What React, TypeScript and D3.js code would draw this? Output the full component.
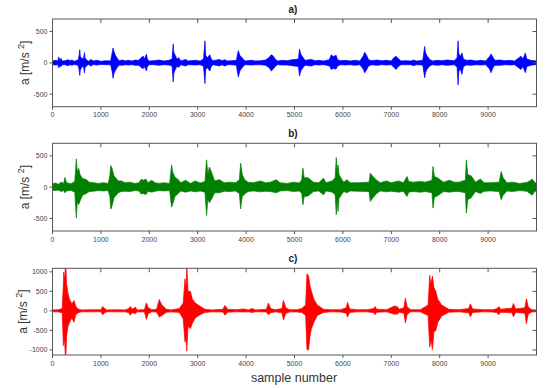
import React from "react";
import { scaleLinear, area, curveLinear } from "d3";

type Pt = [number, number, number]; // sample, upper envelope, lower envelope

const xTicks = [0, 1000, 2000, 3000, 4000, 5000, 6000, 7000, 8000, 9000];
const yTicksAB = [-500, 0, 500];
const yTicksC = [-1000, -500, 0, 500, 1000];
const panelTitles = ["a)", "b)", "c)"];

// envelope of the acceleration signal
const envA: Pt[] = [
  [0, 30, -30], [60, 40, -35], [110, 30, -30], [130, 95, -80], [150, 50, -45],
  [175, 70, -60], [200, 30, -30], [260, 35, -30], [320, 50, -45], [360, 35, -30],
  [400, 45, -40], [450, 25, -25], [530, 45, -40], [550, 120, -110], [563, 210, -200],
  [575, 100, -110], [610, 70, -65], [640, 60, -55], [660, 165, -160], [672, 80, -80],
  [700, 50, -50], [740, 25, -25], [800, 55, -50], [840, 30, -28], [920, 40, -35],
  [1000, 25, -25], [1100, 35, -30], [1200, 30, -30], [1235, 170, -150], [1252, 237, -247],
  [1270, 180, -170], [1300, 120, -120], [1340, 70, -70], [1380, 35, -35], [1450, 45, -40],
  [1500, 30, -30], [1560, 40, -35], [1650, 30, -30], [1700, 45, -40], [1780, 40, -40],
  [1830, 80, -70], [1870, 110, -95], [1900, 60, -60], [1940, 140, -130], [1960, 60, -60],
  [2000, 30, -30], [2100, 35, -30], [2200, 45, -40], [2300, 30, -30], [2400, 40, -35],
  [2470, 60, -50], [2494, 300, -305], [2505, 170, -170], [2530, 130, -120], [2570, 60, -55],
  [2610, 80, -70], [2650, 30, -30], [2750, 55, -50], [2800, 30, -30], [2950, 40, -35],
  [3050, 30, -30], [3120, 60, -55], [3150, 352, -331], [3165, 120, -110], [3200, 80, -75],
  [3250, 130, -130], [3280, 60, -60], [3320, 35, -30], [3450, 55, -50], [3500, 35, -30],
  [3560, 50, -50], [3620, 30, -30], [3700, 35, -30], [3800, 40, -40], [3825, 150, -170],
  [3840, 195, -226], [3870, 120, -130], [3940, 60, -55], [3980, 30, -30], [4100, 40, -35],
  [4200, 30, -30], [4300, 35, -30], [4400, 45, -40], [4480, 90, -80], [4520, 130, -130],
  [4560, 110, -100], [4600, 60, -60], [4650, 30, -30], [4750, 40, -35], [4850, 35, -35],
  [4950, 50, -45], [5080, 60, -60], [5104, 220, -210], [5130, 140, -130], [5180, 80, -70],
  [5220, 40, -40], [5350, 55, -50], [5420, 35, -30], [5500, 40, -35], [5600, 30, -30],
  [5720, 50, -45], [5760, 130, -105], [5800, 100, -90], [5860, 120, -100], [5890, 50, -50],
  [5950, 35, -30], [6050, 40, -35], [6150, 30, -30], [6250, 40, -40], [6350, 30, -30],
  [6420, 110, -100], [6450, 170, -160], [6490, 120, -110], [6530, 50, -50], [6600, 35, -30],
  [6700, 45, -40], [6800, 35, -30], [6900, 40, -35], [7000, 30, -30], [7050, 80, -70],
  [7100, 105, -105], [7140, 70, -60], [7200, 30, -30], [7300, 35, -30], [7400, 30, -30],
  [7460, 45, -45], [7520, 30, -30], [7650, 40, -35], [7690, 263, -237], [7705, 170, -160],
  [7740, 110, -100], [7800, 50, -45], [7850, 30, -30], [7950, 40, -40], [8050, 35, -30],
  [8150, 45, -40], [8300, 35, -30], [8360, 80, -70], [8380, 352, -352], [8395, 150, -140],
  [8430, 100, -100], [8460, 158, -184], [8490, 60, -60], [8550, 40, -35], [8650, 45, -40],
  [8750, 30, -30], [8850, 40, -35], [8950, 30, -30], [9030, 100, -100], [9060, 142, -158],
  [9100, 90, -80], [9140, 40, -40], [9250, 45, -40], [9350, 35, -30], [9450, 40, -35],
  [9550, 30, -30], [9650, 90, -90], [9680, 105, -105], [9720, 60, -60], [9770, 158, -158],
  [9800, 60, -60], [9880, 40, -40], [9950, 35, -30], [10000, 30, -30],
];

const envB: Pt[] = [
  [0, 50, -50], [60, 65, -55], [120, 45, -45], [180, 80, -70], [230, 60, -55],
  [258, 155, -90], [290, 70, -60], [380, 55, -50], [460, 90, -80], [493, 452, -495],
  [510, 250, -240], [540, 300, -280], [570, 200, -220], [620, 140, -130], [700, 120, -100],
  [760, 80, -70], [850, 70, -65], [950, 60, -55], [1050, 70, -60], [1150, 60, -55],
  [1185, 180, -150], [1204, 345, -351], [1230, 300, -300], [1270, 180, -170], [1360, 100, -90],
  [1420, 100, -70], [1500, 70, -65], [1600, 80, -70], [1700, 60, -55], [1790, 70, -60],
  [1830, 125, -110], [1880, 110, -100], [1930, 130, -120], [1970, 70, -65], [2050, 110, -80],
  [2120, 70, -65], [2200, 60, -55], [2300, 70, -60], [2420, 60, -55], [2460, 356, -320],
  [2480, 250, -280], [2530, 160, -150], [2600, 120, -100], [2650, 70, -60], [2750, 110, -80],
  [2850, 60, -60], [2950, 100, -75], [3050, 65, -60], [3150, 90, -80], [3184, 436, -452],
  [3210, 200, -180], [3240, 320, -250], [3280, 250, -200], [3350, 100, -90], [3450, 120, -90],
  [3550, 70, -65], [3650, 80, -70], [3780, 70, -60], [3860, 120, -100], [3888, 383, -346],
  [3920, 200, -150], [3970, 120, -110], [4040, 80, -70], [4150, 70, -60], [4300, 100, -75],
  [4400, 70, -65], [4500, 80, -70], [4627, 120, -90], [4700, 70, -60], [4850, 60, -55],
  [4980, 80, -70], [5100, 65, -60], [5150, 120, -100], [5174, 303, -282], [5200, 150, -150],
  [5280, 150, -140], [5392, 80, -70], [5500, 70, -60], [5600, 144, -122], [5650, 70, -60],
  [5780, 100, -80], [5840, 150, -120], [5863, 473, -441], [5880, 250, -200], [5900, 356, -388],
  [5920, 200, -180], [5980, 120, -110], [6020, 80, -70], [6080, 120, -90], [6150, 70, -60],
  [6300, 70, -65], [6540, 80, -70], [6566, 223, -229], [6620, 170, -170], [6700, 110, -100],
  [6770, 70, -60], [6900, 100, -75], [7000, 70, -65], [7150, 100, -80], [7250, 70, -65],
  [7325, 170, -150], [7360, 90, -80], [7450, 80, -70], [7600, 90, -80], [7700, 80, -70],
  [7840, 110, -90], [7862, 330, -335], [7890, 170, -160], [7950, 150, -140], [8080, 80, -70],
  [8200, 110, -80], [8300, 80, -70], [8400, 80, -70], [8530, 110, -90], [8551, 436, -415],
  [8580, 200, -200], [8650, 180, -170], [8740, 80, -70], [8840, 130, -100], [8920, 70, -65],
  [9050, 70, -60], [9230, 80, -70], [9269, 250, -202], [9310, 150, -130], [9390, 70, -60],
  [9500, 80, -70], [9650, 60, -55], [9800, 75, -65], [9880, 110, -110], [9910, 130, -130],
  [9960, 80, -70], [10000, 60, -60],
];

const envC: Pt[] = [
  [0, 25, -25], [100, 30, -25], [150, 40, -35], [200, 60, -50], [225, 700, -890],
  [231, 990, -700], [250, 800, -800], [273, 1300, -1300], [290, 700, -650], [320, 450, -400],
  [350, 300, -300], [400, 180, -180], [445, 265, -290], [480, 120, -100], [528, 50, -50],
  [600, 25, -25], [800, 30, -25], [1000, 30, -25], [1038, 110, -100], [1080, 60, -50],
  [1120, 25, -25], [1300, 30, -25], [1500, 25, -25], [1580, 60, -50], [1603, 110, -110],
  [1650, 50, -50], [1715, 90, -70], [1750, 25, -25], [1900, 30, -30], [1940, 205, -220],
  [1980, 80, -70], [2050, 30, -25], [2150, 40, -30], [2205, 290, -160], [2260, 150, -120],
  [2355, 40, -35], [2450, 25, -25], [2620, 60, -40], [2700, 200, -200], [2737, 820, -800],
  [2760, 600, -700], [2775, 1200, -1030], [2800, 500, -400], [2850, 500, -450], [2890, 300, -320],
  [2950, 200, -180], [3050, 120, -100], [3150, 40, -40], [3300, 25, -25], [3520, 40, -30],
  [3565, 140, -110], [3620, 40, -35], [3800, 30, -25], [3950, 50, -30], [4050, 25, -25],
  [4115, 60, -40], [4200, 25, -25], [4420, 40, -30], [4460, 200, -100], [4510, 60, -50],
  [4600, 30, -25], [4740, 60, -50], [4771, 270, -230], [4820, 80, -70], [4900, 30, -25],
  [5050, 30, -30], [5150, 60, -40], [5230, 150, -120], [5257, 950, -990], [5290, 900, -1000],
  [5320, 650, -650], [5350, 500, -450], [5400, 300, -300], [5470, 150, -120], [5600, 40, -40],
  [5750, 30, -25], [5950, 30, -30], [6070, 80, -60], [6097, 220, -160], [6140, 50, -40],
  [6300, 30, -25], [6500, 30, -25], [6640, 60, -50], [6663, 110, -100], [6700, 40, -35],
  [6900, 30, -25], [7080, 130, -90], [7100, 80, -60], [7120, 120, -100], [7160, 40, -35],
  [7260, 80, -60], [7290, 325, -310], [7330, 100, -80], [7400, 30, -25], [7600, 30, -25],
  [7760, 150, -120], [7793, 910, -930], [7820, 700, -750], [7850, 890, -990], [7880, 600, -550],
  [7920, 500, -500], [7960, 300, -300], [8040, 150, -130], [8190, 40, -35], [8400, 30, -25],
  [8600, 60, -50], [8634, 180, -150], [8680, 50, -40], [8900, 30, -25], [9100, 30, -30],
  [9190, 60, -50], [9220, 110, -100], [9260, 40, -35], [9490, 70, -50], [9523, 190, -150],
  [9570, 50, -40], [9760, 80, -60], [9792, 310, -330], [9830, 100, -80], [9900, 30, -30],
  [10000, 25, -25],
];

const W = 550;
const H = 388;
const left = 52.5;
const right = 536.5;

interface PanelProps {
  idx: number;
  top: number;
  bottom: number;
  yDomain: [number, number];
  yTicks: number[];
  data: Pt[];
  color: string;
  showXLabel?: boolean;
}

const Panel: React.FC<PanelProps> = ({ idx, top, bottom, yDomain, yTicks, data, color }) => {
  const x = scaleLinear().domain([0, 10000]).range([left, right]);
  const y = scaleLinear().domain(yDomain).range([bottom, top]);
  const band = area<Pt>()
    .x((d) => x(d[0]))
    .y0((d) => y(d[2]))
    .y1((d) => y(d[1]))
    .curve(curveLinear);
  const clipId = `clip-${idx}`;
  const midY = (top + bottom) / 2;
  return (
    <g>
      <defs>
        <clipPath id={clipId}>
          <rect x={left} y={top} width={right - left} height={bottom - top} />
        </clipPath>
      </defs>
      <g clipPath={`url(#${clipId})`}>
        <path d={band(data) || ""} fill={color} stroke={color} strokeWidth={0.7} />
      </g>
      <rect x={left} y={top} width={right - left} height={bottom - top}
        fill="none" stroke="#555" strokeWidth={1} />
      {xTicks.map((t) => (
        <g key={t}>
          <line x1={x(t)} x2={x(t)} y1={top} y2={top + 4} stroke="#555" />
          <line x1={x(t)} x2={x(t)} y1={bottom} y2={bottom + 3} stroke="#555" />
          <text x={x(t)} y={bottom + 10.5} fontSize={7} fill="#444" textAnchor="middle"
            fontFamily="Liberation Sans, Arial, sans-serif">{t}</text>
        </g>
      ))}
      {yTicks.map((t) => (
        <g key={t}>
          <line x1={left - 3} x2={left} y1={y(t)} y2={y(t)} stroke="#555" />
          <line x1={right - 4} x2={right} y1={y(t)} y2={y(t)} stroke="#555" />
          <text x={left - 5} y={y(t) + 2.5} fontSize={7} fill="#444" textAnchor="end"
            fontFamily="Liberation Sans, Arial, sans-serif">{t}</text>
        </g>
      ))}
      <text x={293} y={top - 6} fontSize={10} fontWeight="bold" textAnchor="middle"
        fill="#222" fontFamily="Liberation Sans, Arial, sans-serif">{panelTitles[idx]}</text>
      <text transform={`translate(${idx === 2 ? 27 : 29},${midY}) rotate(-90)`} fontSize={12}
        textAnchor="middle" fill="#333" fontFamily="Liberation Sans, Arial, sans-serif">
        a [m/s <tspan dy={-5} fontSize={9}>2</tspan><tspan dy={5}>]</tspan>
      </text>
    </g>
  );
};

export default function App() {
  return (
    <svg width={W} height={H} style={{ position: "absolute", left: 0, top: 0, background: "#fff" }}>
      <Panel idx={0} top={19} bottom={106.7} yDomain={[-700, 700]} yTicks={yTicksAB}
        data={envA} color="#0000ff" />
      <Panel idx={1} top={143.3} bottom={231} yDomain={[-700, 700]} yTicks={yTicksAB}
        data={envB} color="#008000" />
      <Panel idx={2} top={268.3} bottom={355} yDomain={[-1130, 1090]} yTicks={yTicksC}
        data={envC} color="#ff0000" />
      <text x={294} y={382} fontSize={12.5} textAnchor="middle" fill="#333"
        fontFamily="Liberation Sans, Arial, sans-serif">sample number</text>
    </svg>
  );
}
